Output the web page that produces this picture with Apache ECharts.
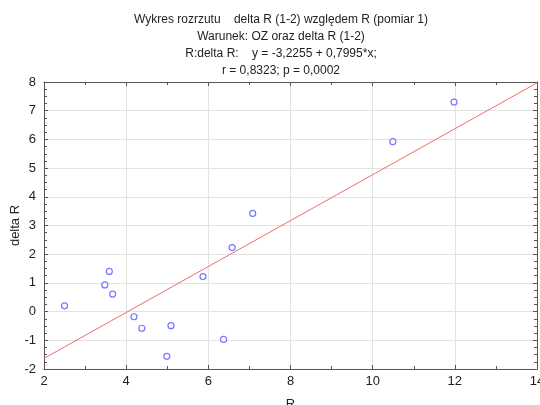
<!DOCTYPE html>
<html>
<head>
<meta charset="utf-8">
<script src="https://cdn.jsdelivr.net/npm/echarts@6/dist/echarts.min.js"></script>
<style>
html, body { margin: 0; padding: 0; background: #fff; }
#chart { width: 540px; height: 405px; }
</style>
</head>
<body>
<div id="chart"></div>
<script>
// pomiary: R (pomiar 1) i delta R (1-2)
var xR = [2.5, 3.48, 3.59, 3.67, 4.19, 4.38, 5.09, 4.99, 5.87, 6.37, 6.58, 7.08, 10.49, 11.98];
var deltaR = [0.2, 0.93, 1.4, 0.61, -0.18, -0.58, -0.49, -1.56, 1.22, -0.97, 2.23, 3.42, 5.92, 7.3];
// linia regresji (koniec osi)
var fitX = [2, 14];
var fitY = [-1.63, 7.97];
var titleLines = [
    'Wykres rozrzutu    delta R (1-2) względem R (pomiar 1)',
    'Warunek: OZ oraz delta R (1-2)',
    'R:delta R:    y = -3,2255 + 0,7995*x;',
    'r = 0,8323; p = 0,0002'
];

var pts = [];
for (var i = 0; i < xR.length; i++) {
    pts.push([xR[i], deltaR[i]]);
}
var fit = [];
for (var j = 0; j < fitX.length; j++) {
    fit.push([fitX[j], fitY[j]]);
}

var axisCol = '#555';
var font = 'Liberation Sans, Arial, sans-serif';

var myChart = echarts.init(document.getElementById('chart'));
var option = {
    animation: false,
    textStyle: { fontFamily: font },
    title: {
        text: titleLines.join('\n'),
        left: 276,
        top: 6,
        textAlign: 'center',
        textStyle: { fontSize: 12, fontWeight: 'normal', color: '#222', lineHeight: 17, fontFamily: font }
    },
    grid: { left: 44, right: 3, top: 82, bottom: 36, containLabel: false, outerBoundsMode: 'none' },
    xAxis: [{
        type: 'value', min: 2, max: 14, interval: 2,
        name: 'R', nameLocation: 'middle', nameGap: 29, nameMoveOverlap: false,
        nameTextStyle: { fontSize: 13, color: '#222' },
        axisLine: { onZero: false, lineStyle: { color: axisCol } },
        axisTick: { inside: true, length: 4, lineStyle: { color: axisCol } },
        minorTick: { show: true, splitNumber: 2, length: 3, lineStyle: { color: axisCol } },
        axisLabel: { fontSize: 13, color: '#222', margin: 6 },
        splitLine: { show: true, lineStyle: { color: '#e2e2e2' } }
    }, {
        type: 'value', min: 2, max: 14, interval: 2, position: 'top',
        axisLine: { show: true, onZero: false, lineStyle: { color: axisCol } },
        axisTick: { inside: true, length: 4, lineStyle: { color: axisCol } },
        minorTick: { show: true, splitNumber: 2, length: 3, lineStyle: { color: axisCol } },
        axisLabel: { show: false },
        splitLine: { show: false }
    }],
    yAxis: [{
        type: 'value', min: -2, max: 8, interval: 1,
        name: 'delta R', nameLocation: 'middle', nameGap: 22, nameMoveOverlap: false,
        nameTextStyle: { fontSize: 13, color: '#222' },
        axisLine: { show: true, onZero: false, lineStyle: { color: axisCol } },
        axisTick: { show: true, inside: true, length: 4, lineStyle: { color: axisCol } },
        minorTick: { show: true, splitNumber: 4, length: 3, lineStyle: { color: axisCol } },
        axisLabel: { fontSize: 13, color: '#222', margin: 8 },
        splitLine: { show: true, lineStyle: { color: '#e2e2e2' } }
    }, {
        type: 'value', min: -2, max: 8, interval: 1, position: 'right',
        axisLine: { show: true, onZero: false, lineStyle: { color: axisCol } },
        axisTick: { show: true, inside: true, length: 4, lineStyle: { color: axisCol } },
        minorTick: { show: true, splitNumber: 4, length: 3, lineStyle: { color: axisCol } },
        axisLabel: { show: false },
        splitLine: { show: false }
    }],
    series: [{
        type: 'line',
        data: fit,
        symbol: 'none',
        lineStyle: { color: '#f26b6b', width: 1 },
        z: 2
    }, {
        type: 'scatter',
        data: pts,
        symbol: 'circle',
        symbolSize: 6,
        itemStyle: { color: '#fff', borderColor: '#5555ff', borderWidth: 1.2 },
        z: 3
    }]
};
myChart.setOption(option, true);
</script>
</body>
</html>
